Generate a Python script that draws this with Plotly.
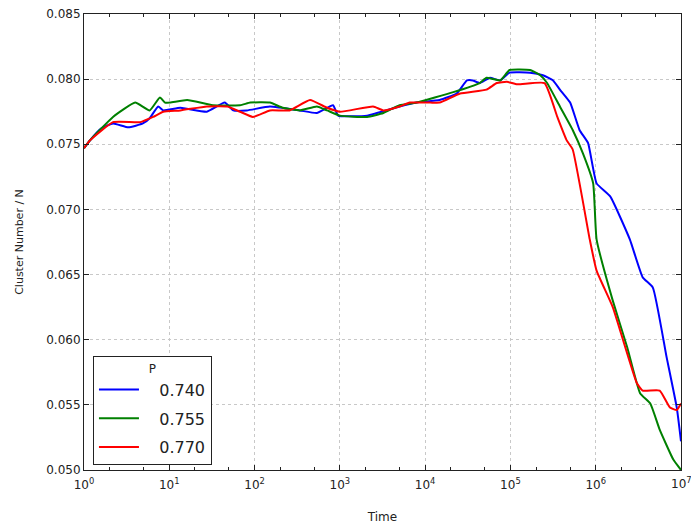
import plotly.graph_objects as go

# log10(time) sample positions and cluster number per site for each P
exp_740 = [0, 0.07, 0.2, 0.34, 0.52, 0.69, 0.77, 0.87, 0.93, 1.13, 1.44, 1.65, 1.75, 1.91,
           2.18, 2.53, 2.73, 2.92, 2.98, 3.32, 3.70, 3.90, 4.17, 4.37, 4.49, 4.56, 4.64,
           4.76, 4.88, 4.99, 5.23, 5.38, 5.50, 5.58, 5.70, 5.81, 5.91, 6.01, 6.17, 6.40,
           6.55, 6.67, 6.83, 6.95, 7.0]
val_740 = [0.0747, 0.0753, 0.0762, 0.0766, 0.0763, 0.0766, 0.0770, 0.0779, 0.0776, 0.0778,
           0.0775, 0.0782, 0.0776, 0.0776, 0.0779, 0.0776, 0.0774, 0.0780, 0.0772, 0.0772,
           0.0779, 0.0782, 0.0784, 0.0789, 0.0799, 0.0799, 0.0797, 0.0801, 0.0799, 0.0805,
           0.0805, 0.0803, 0.0799, 0.0792, 0.0782, 0.0761, 0.0751, 0.0720, 0.0710, 0.0677,
           0.0648, 0.0640, 0.0587, 0.0548, 0.0522]

exp_755 = [0, 0.07, 0.34, 0.60, 0.77, 0.89, 0.95, 1.01, 1.21, 1.51, 1.83, 1.95, 2.18, 2.33,
           2.53, 2.73, 2.85, 3.00, 3.32, 3.51, 3.70, 3.90, 4.33, 4.64, 4.72, 4.88, 4.99,
           5.23, 5.35, 5.43, 5.58, 5.73, 5.85, 5.97, 6.01, 6.20, 6.37, 6.52, 6.64, 6.75,
           6.91, 7.0]
val_755 = [0.0747, 0.0753, 0.0771, 0.0782, 0.0776, 0.0786, 0.0782, 0.0782, 0.0784, 0.0780,
           0.0780, 0.0782, 0.0782, 0.0778, 0.0776, 0.0779, 0.0776, 0.0772, 0.0771, 0.0774,
           0.0780, 0.0782, 0.0790, 0.0797, 0.0801, 0.0799, 0.0807, 0.0807, 0.0803, 0.0797,
           0.0779, 0.0761, 0.0743, 0.0720, 0.0677, 0.0630, 0.0594, 0.0559, 0.0551, 0.0531,
           0.0508, 0.0500]

exp_770 = [0, 0.07, 0.34, 0.66, 0.81, 0.93, 1.13, 1.44, 1.68, 1.83, 1.98, 2.18, 2.41, 2.65,
           2.85, 3.00, 3.39, 3.51, 3.70, 3.82, 4.06, 4.17, 4.41, 4.72, 4.84, 4.96, 5.08,
           5.40, 5.55, 5.66, 5.73, 5.93, 6.01, 6.20, 6.48, 6.55, 6.75, 6.87, 6.95, 7.0]
val_770 = [0.0747, 0.0753, 0.0767, 0.0767, 0.0771, 0.0775, 0.0776, 0.0779, 0.0779, 0.0775,
           0.0771, 0.0776, 0.0776, 0.0784, 0.0778, 0.0775, 0.0779, 0.0776, 0.0779, 0.0782,
           0.0782, 0.0782, 0.0789, 0.0792, 0.0797, 0.0798, 0.0796, 0.0797, 0.0771, 0.0753,
           0.0746, 0.0677, 0.0653, 0.0625, 0.0567, 0.0561, 0.0561, 0.0548, 0.0546, 0.0551]

series = [("0.740", exp_740, val_740, "#0000ff"),
          ("0.755", exp_755, val_755, "#008000"),
          ("0.770", exp_770, val_770, "#ff0000")]

x_tick_exps = [0, 1, 2, 3, 4, 5, 6, 7]
y_ticks = [0.050, 0.055, 0.060, 0.065, 0.070, 0.075, 0.080, 0.085]

fig = go.Figure()
for name, ex, vals, color in series:
    fig.add_trace(go.Scatter(
        x=[10 ** e for e in ex], y=vals, mode="lines", name="   " + name,
        legendgroup=name,
        line=dict(color=color, width=2, shape="spline", smoothing=0.4),
    ))

axis_font = dict(family="DejaVu Sans", size=12, color="#222")

# the last decade label sits on the right edge, so it is placed as an annotation
tick_text = [f"10<sup>{e}</sup>" for e in x_tick_exps]
edge_label = tick_text[-1]
tick_text[-1] = ""

fig.update_layout(
    width=691, height=524,
    margin=dict(l=84, r=10, t=14, b=54, autoexpand=False),
    paper_bgcolor="white", plot_bgcolor="white",
    font=dict(family="DejaVu Sans", color="#222"),
    showlegend=True,
    legend=dict(
        x=0.015, y=0.011, xanchor="left", yanchor="bottom",
        bgcolor="white", bordercolor="#222", borderwidth=1,
        font=dict(family="DejaVu Sans", size=16, color="#222"),
        title=dict(text="P", side="top center", font=dict(size=12, color="#222")),
        tracegroupgap=5, itemwidth=40,
    ),
    xaxis=dict(
        type="log", range=[0, 7], automargin=False,
        tickvals=[10 ** e for e in x_tick_exps],
        ticktext=tick_text,
        ticks="inside", ticklen=5, tickcolor="#222", ticklabelstandoff=4,
        minor=dict(ticks="inside", ticklen=3, tickcolor="#222", showgrid=False),
        showline=True, linecolor="#222", linewidth=1, mirror="ticks",
        showgrid=True, gridcolor="#c8c8c8", griddash="dot", gridwidth=1,
        tickfont=axis_font, zeroline=False,
        title=dict(text="Time", font=axis_font, standoff=22),
    ),
    yaxis=dict(
        range=[0.050, 0.085], automargin=False,
        tickvals=y_ticks, ticktext=[f"{v:.3f}" for v in y_ticks],
        ticks="inside", ticklen=5, tickcolor="#222",
        showline=True, linecolor="#222", linewidth=1, mirror="ticks",
        showgrid=True, gridcolor="#c8c8c8", griddash="dot", gridwidth=1,
        tickfont=axis_font, zeroline=False,
        title=dict(text="Cluster Number / N",
                   font=dict(family="DejaVu Sans", size=11, color="#222"), standoff=20),
    ),
    annotations=[dict(
        x=x_tick_exps[-1], xref="x", y=0, yref="paper",
        text=edge_label, showarrow=False, font=axis_font,
        xanchor="center", yanchor="top", yshift=-3,
    )],
)

fig.write_html("out.html")
